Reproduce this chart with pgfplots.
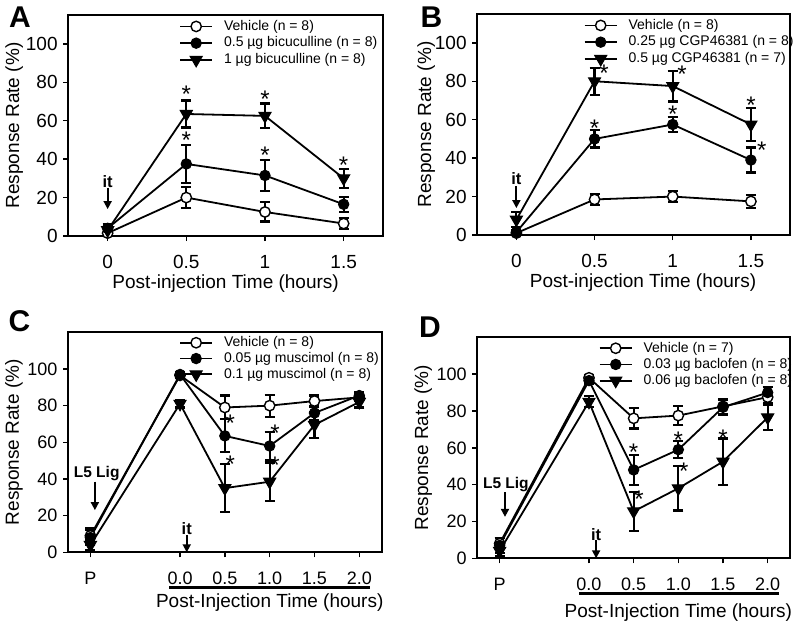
\documentclass[border=0pt]{standalone}
\usepackage{fontspec}
\setmainfont{Liberation Sans}
\usepackage{pgfplots}
\pgfplotsset{compat=1.18}
\usetikzlibrary{arrows.meta}
\newcommand{\fs}[1]{\fontsize{#1}{#1}\selectfont}
\pgfplotsset{
  panel/.style={
    scale only axis, anchor=south west, clip=false,
    axis line style={line width=1.8pt},
    every tick/.style={line width=1.5pt, black},
    major tick length=5pt, tick align=outside,
    xtick pos=bottom, ytick pos=left,
    ymin=0, ytick={0,20,40,60,80,100},
    /pgf/number format/assume math mode=true,
    tick label style={font=\fs{19}},
    label style={font=\fs{19}},
    ylabel={Response Rate (\%)},
    yticklabel style={inner sep=1pt, xshift=-4.5pt},
    xticklabel style={yshift=-11pt},
    legend style={draw=none, fill=none, font=\fs{14}, anchor=north west, inner sep=0pt, row sep=2.2pt, column sep=10pt,
      nodes={inner sep=1pt, text height=10pt, text depth=2.5pt}},
    legend cell align=left,
    every error bar/.append style={line width=2.2pt, black},
  },
  eb/.style={error bars/.cd, y dir=both, y explicit,
    error bar style={line width=2.2pt, black},
    error mark options={rotate=90, line width=2.2pt, mark size=5pt, black}},
  veh/.style={line width=1.8pt, black, mark=*, mark size=5.2pt, mark options={fill=white, line width=1.4pt},
    legend image code/.code={\draw[mark repeat=2, mark phase=2, ##1] plot coordinates {(0pt,0pt) (16pt,0pt) (32pt,0pt)};},
    eb},
  dot/.style={line width=1.8pt, black, mark=*, mark size=5.2pt, mark options={fill=black, line width=1pt},
    legend image code/.code={\draw[mark repeat=2, mark phase=2, ##1] plot coordinates {(0pt,0pt) (16pt,0pt) (32pt,0pt)};},
    eb},
  tri/.style={line width=1.8pt, black, mark=triangle*, mark size=7pt, mark options={fill=black, rotate=180, line width=1pt},
    legend image code/.code={\draw[mark repeat=2, mark phase=2, ##1] plot coordinates {(0pt,0pt) (16pt,0pt) (32pt,0pt)};},
    eb},
}
\tikzset{
  star/.style={font=\fs{24}, inner sep=0pt, yshift=-4pt},
  itlab/.style={font=\bfseries\fs{16.5}, inner sep=0pt},
  liglab/.style={font=\bfseries\fs{15.5}, inner sep=0pt},
  arr/.style={line width=1.8pt, -{Triangle[length=8pt,width=8pt]}},
}
\begin{document}
\begin{tikzpicture}
\path[use as bounding box] (0,0) rectangle (800pt,-621pt);

% ---------------- Panel A
\begin{axis}[panel, at={(68.3pt,-236pt)}, width=314.7pt, height=221pt,
  xmin=-0.25, xmax=1.75, ymax=115, xtick={0,0.5,1,1.5}, xticklabels={0,0.5,1,1.5},
  xlabel={Post-injection Time (hours)},
  x label style={at={(axis description cs:0.5,0)}, anchor=center, yshift=-48pt},
  y label style={at={(axis description cs:0,0.5)}, anchor=center, yshift=54pt},
  legend style={at={(axis description cs:0.352,1)}, yshift=-4pt}]
\addplot[veh] coordinates {(0,1.5) +- (0,1) (0.5,20) +- (0,5.5) (1,12.5) +- (0,5) (1.5,6.5) +- (0,3)};
\addplot[dot] coordinates {(0,4) +- (0,2) (0.5,37.5) +- (0,10) (1,31.5) +- (0,8) (1.5,16.5) +- (0,4)};
\addplot[tri] coordinates {(0,3) +- (0,2) (0.5,63.5) +- (0,7) (1,62.5) +- (0,6.5) (1.5,30) +- (0,5)};
\legend{Vehicle (n = 8), 0.5 µg bicuculline (n = 8), 1 µg bicuculline (n = 8)}
\node[star] at (axis cs:0.5,76) {*};
\node[star] at (axis cs:0.5,52) {*};
\node[star] at (axis cs:1,73.5) {*};
\node[star] at (axis cs:1,44) {*};
\node[star] at (axis cs:1.5,39) {*};
\node[itlab] at (axis cs:0,28.5) {it};
\draw[arr] (axis cs:0,25) -- (axis cs:0,14);
\end{axis}

% ---------------- Panel B
\begin{axis}[panel, at={(477.3pt,-235pt)}, width=312.7pt, height=221pt,
  xmin=-0.25, xmax=1.75, ymax=115, xtick={0,0.5,1,1.5}, xticklabels={0,0.5,1,1.5},
  xlabel={Post-injection Time (hours)},
  x label style={at={(axis description cs:0.53,0)}, anchor=center, yshift=-48pt},
  y label style={at={(axis description cs:0,0.5)}, anchor=center, yshift=51pt},
  legend style={at={(axis description cs:0.34,1)}, yshift=-4pt}]
\addplot[veh] coordinates {(0,1) +- (0,1) (0.5,18.5) +- (0,3) (1,20) +- (0,3) (1.5,17.5) +- (0,3.5)};
\addplot[dot] coordinates {(0,1.5) +- (0,1) (0.5,50) +- (0,4.5) (1,57.5) +- (0,4) (1.5,39) +- (0,6.5)};
\addplot[tri] coordinates {(0,8) +- (0,4) (0.5,80) +- (0,7) (1,77.5) +- (0,8) (1.5,57.5) +- (0,8.5)};
\legend{Vehicle (n = 8), 0.25 µg CGP46381 (n = 8), 0.5 µg CGP46381 (n = 7)}
\node[star] at (axis cs:0.56,86) {*};
\node[star] at (axis cs:0.5,57.5) {*};
\node[star] at (axis cs:1.06,85.5) {*};
\node[star] at (axis cs:1,65) {*};
\node[star] at (axis cs:1.5,69.5) {*};
\node[star] at (axis cs:1.57,46) {*};
\node[itlab] at (axis cs:0,29.5) {it};
\draw[arr] (axis cs:0,25.5) -- (axis cs:0,14);
\end{axis}

% ---------------- Panel C
\begin{axis}[panel, at={(68pt,-552.3pt)}, width=313.7pt, height=220pt,
  xmin=-1.25, xmax=2.25, ymax=120, xtick={-1,0,0.5,1,1.5,2}, xticklabels={P,0.0,0.5,1.0,1.5,2.0},
  tick label style={font=\fs{18}},
  xlabel={Post-Injection Time (hours)},
  x label style={at={(axis description cs:0.643,0)}, anchor=center, yshift=-50pt},
  y label style={at={(axis description cs:0,0.5)}, anchor=center, yshift=54pt},
  legend style={at={(axis description cs:0.354,1)}, yshift=-3pt, row sep=1.3pt}]
\addplot[veh] coordinates {(-1,9) +- (0,4) (0,96.5) +- (0,1.5) (0.5,79) +- (0,6.5) (1,80) +- (0,6) (1.5,82.5) +- (0,3) (2,84.5) +- (0,2)};
\addplot[dot] coordinates {(-1,8) +- (0,4) (0,97) +- (0,1.5) (0.5,63.5) +- (0,9) (1,58) +- (0,7.5) (1.5,76) +- (0,4) (2,85.5) +- (0,2)};
\addplot[tri] coordinates {(-1,4) +- (0,3) (0,81) +- (0,2) (0.5,35) +- (0,13) (1,38.5) +- (0,10.5) (1.5,69.5) +- (0,7) (2,82) +- (0,3)};
\legend{Vehicle (n = 8), 0.05 µg muscimol (n = 8), 0.1 µg muscimol (n = 8)}
\node[star] at (axis cs:0.56,72.5) {*};
\node[star] at (axis cs:0.56,50) {*};
\node[star] at (axis cs:1.06,67) {*};
\node[star] at (axis cs:1.06,49.5) {*};
\node[liglab] at (axis cs:-0.93,43) {L5 Lig};
\draw[arr] (axis cs:-0.95,38.5) -- (axis cs:-0.95,23);
\node[itlab] at (axis cs:0.075,13) {it};
\draw[arr] (axis cs:0.075,9.5) -- (axis cs:0.075,0);
\draw[line width=2.5pt] ([yshift=-35pt]axis cs:-0.12,0) -- ([yshift=-35pt]axis cs:2.12,0);
\end{axis}

% ---------------- Panel D
\begin{axis}[panel, at={(477.3pt,-558.3pt)}, width=312.7pt, height=221pt,
  xmin=-1.25, xmax=2.25, ymax=120, xtick={-1,0,0.5,1,1.5,2}, xticklabels={P,0.0,0.5,1.0,1.5,2.0},
  tick label style={font=\fs{18}},
  xlabel={Post-Injection Time (hours)},
  x label style={at={(axis description cs:0.643,0)}, anchor=center, yshift=-54pt},
  y label style={at={(axis description cs:0,0.5)}, anchor=center, yshift=54pt},
  legend style={at={(axis description cs:0.388,1)}, yshift=-3.5pt, row sep=1.7pt}]
\addplot[veh] coordinates {(-1,8) +- (0,3) (0,98) +- (0,1.5) (0.5,76) +- (0,5.5) (1,77.5) +- (0,5) (1.5,82.5) +- (0,4) (2,87.5) +- (0,3)};
\addplot[dot] coordinates {(-1,7) +- (0,4) (0,96.5) +- (0,2) (0.5,48) +- (0,8) (1,59) +- (0,4.5) (1.5,82) +- (0,4) (2,90) +- (0,3)};
\addplot[tri] coordinates {(-1,4) +- (0,3) (0,85) +- (0,3) (0.5,25.5) +- (0,10.5) (1,38) +- (0,12) (1.5,52.5) +- (0,12.5) (2,76.5) +- (0,7)};
\legend{Vehicle (n = 7), 0.03 µg baclofen (n = 8), 0.06 µg baclofen (n = 8)}
\node[star] at (axis cs:0.5,59.5) {*};
\node[star] at (axis cs:0.56,34) {*};
\node[star] at (axis cs:1,66.5) {*};
\node[star] at (axis cs:1.06,49.5) {*};
\node[star] at (axis cs:1.5,67.5) {*};
\node[liglab] at (axis cs:-0.93,40) {L5 Lig};
\draw[arr] (axis cs:-0.94,36) -- (axis cs:-0.94,22.5);
\node[itlab] at (axis cs:0.08,13) {it};
\draw[arr] (axis cs:0.08,9.8) -- (axis cs:0.08,0);
\draw[line width=2.5pt] ([yshift=-35pt]axis cs:-0.11,0) -- ([yshift=-35pt]axis cs:2.13,0);
\end{axis}

% panel letters
\node[font=\bfseries\fs{30}, inner sep=0pt] at (20pt,-17.5pt) {A};
\node[font=\bfseries\fs{30}, inner sep=0pt] at (431.5pt,-17.5pt) {B};
\node[font=\bfseries\fs{30}, inner sep=0pt] at (19.5pt,-321pt) {C};
\node[font=\bfseries\fs{30}, inner sep=0pt] at (430pt,-327.5pt) {D};
\end{tikzpicture}
\end{document}
